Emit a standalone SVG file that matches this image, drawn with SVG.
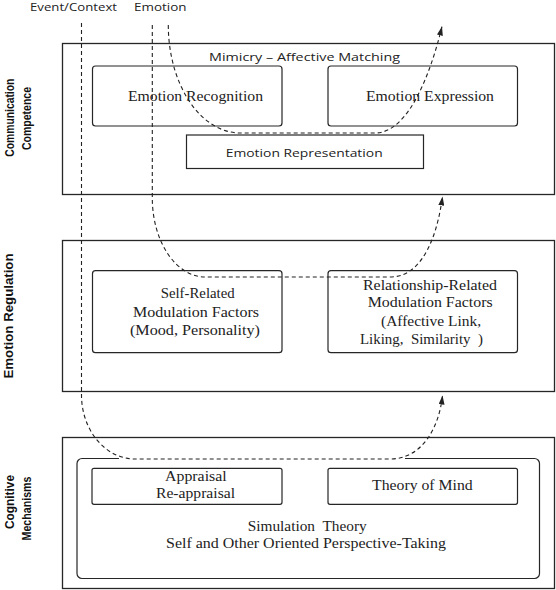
<svg xmlns="http://www.w3.org/2000/svg" width="556" height="590" viewBox="0 0 556 590">
<defs>
<style>
.frame{fill:#fff;stroke:#262626;stroke-width:1.3}
.box{fill:none;stroke:#262626;stroke-width:1.2}
.sans{font-family:"Open Sans","DejaVu Sans",sans-serif;font-size:11.5px;fill:#222}
.serif{font-size:15.5px;fill:#222}
.lab{font-family:"Liberation Sans",Arial,sans-serif;font-size:12px;font-weight:bold;fill:#111;text-anchor:middle}
.dash{fill:none;stroke:#222;stroke-width:1.1;stroke-dasharray:4 3}
</style>
<marker id="ah" markerUnits="userSpaceOnUse" markerWidth="9" markerHeight="6" refX="9" refY="3" orient="auto">
<path d="M0,0 L9,3 L0,6 z" fill="#222" stroke="none"/>
</marker>
</defs>
<rect width="556" height="590" fill="#fff"/>

<g id="top-labels">
<text class="sans" x="30" y="10.7" textLength="87" lengthAdjust="spacingAndGlyphs">Event/Context</text>
<text class="sans" x="134" y="10.7" textLength="52.5" lengthAdjust="spacingAndGlyphs">Emotion</text>
</g>

<g id="communication-competence">
<rect class="frame" x="62.5" y="43.5" width="492" height="151"/>
<text class="lab" transform="translate(14,117.7) rotate(-90)" textLength="78" lengthAdjust="spacingAndGlyphs">Communication</text>
<text class="lab" transform="translate(30.5,118.5) rotate(-90)" textLength="63" lengthAdjust="spacingAndGlyphs">Competence</text>
<text class="sans" x="209" y="61" textLength="191" lengthAdjust="spacingAndGlyphs">Mimicry – Affective Matching</text>
</g>
<g id="emotion-recognition" font-family="'Liberation Serif','DejaVu Serif','Times New Roman',serif">
<rect class="box" x="92.5" y="66" width="189.5" height="60" rx="3"/>
<text class="serif" x="128" y="101" textLength="135" lengthAdjust="spacingAndGlyphs">Emotion Recognition</text>
</g>
<g id="emotion-expression" font-family="'Liberation Serif','DejaVu Serif','Times New Roman',serif">
<rect class="box" x="328" y="66" width="189.5" height="60" rx="3"/>
<text class="serif" x="366" y="101" textLength="128" lengthAdjust="spacingAndGlyphs">Emotion Expression</text>
</g>
<g id="emotion-representation">
<rect class="box" x="186.5" y="135" width="237" height="33.5"/>
<text class="sans" x="225.7" y="157" textLength="157" lengthAdjust="spacingAndGlyphs">Emotion Representation</text>
</g>

<g id="emotion-regulation">
<rect class="frame" x="62.5" y="240.5" width="492" height="151"/>
<text class="lab" transform="translate(13,316) rotate(-90)" textLength="125" lengthAdjust="spacingAndGlyphs">Emotion Regulation</text>
</g>
<g id="self-related" font-family="'Liberation Serif','DejaVu Serif','Times New Roman',serif">
<rect class="box" x="92.5" y="270.7" width="189.5" height="82" rx="3"/>
<text class="serif" x="160.7" y="298" textLength="74" lengthAdjust="spacingAndGlyphs">Self-Related</text>
<text class="serif" x="133" y="316.7" textLength="126" lengthAdjust="spacingAndGlyphs">Modulation Factors</text>
<text class="serif" x="130" y="335" textLength="130" lengthAdjust="spacingAndGlyphs">(Mood, Personality)</text>
</g>
<g id="relationship-related" font-family="'Liberation Serif','DejaVu Serif','Times New Roman',serif">
<rect class="box" x="328" y="270.7" width="189.5" height="82" rx="3"/>
<text class="serif" x="363" y="290" textLength="134" lengthAdjust="spacingAndGlyphs">Relationship-Related</text>
<text class="serif" x="367.7" y="307.3" textLength="125" lengthAdjust="spacingAndGlyphs">Modulation Factors</text>
<text class="serif" x="381" y="326" textLength="100" lengthAdjust="spacingAndGlyphs">(Affective Link,</text>
<text class="serif" x="360" y="344" xml:space="preserve" textLength="123" lengthAdjust="spacingAndGlyphs">Liking,  Similarity  )</text>
</g>

<g id="cognitive-mechanisms">
<rect class="frame" x="62.5" y="437.5" width="492" height="151"/>
<text class="lab" transform="translate(14,502) rotate(-90)" textLength="54" lengthAdjust="spacingAndGlyphs">Cognitive</text>
<text class="lab" transform="translate(30.5,508.5) rotate(-90)" textLength="64" lengthAdjust="spacingAndGlyphs">Mechanisms</text>
</g>
<g id="simulation-theory" font-family="'Liberation Serif','DejaVu Serif','Times New Roman',serif">
<rect class="box" x="77" y="458.5" width="462.5" height="120" rx="5"/>
<text class="serif" x="247.7" y="530.7" xml:space="preserve" textLength="119" lengthAdjust="spacingAndGlyphs">Simulation  Theory</text>
<text class="serif" x="166" y="548.3" textLength="280" lengthAdjust="spacingAndGlyphs">Self and Other Oriented Perspective-Taking</text>
</g>
<g id="appraisal" font-family="'Liberation Serif','DejaVu Serif','Times New Roman',serif">
<rect class="box" x="92" y="468.3" width="190" height="36" rx="2"/>
<text class="serif" x="165" y="480.7" textLength="61.7" lengthAdjust="spacingAndGlyphs">Appraisal</text>
<text class="serif" x="156" y="498" textLength="79" lengthAdjust="spacingAndGlyphs">Re-appraisal</text>
</g>
<g id="theory-of-mind" font-family="'Liberation Serif','DejaVu Serif','Times New Roman',serif">
<rect class="box" x="328" y="468.3" width="189.5" height="36" rx="2"/>
<text class="serif" x="372" y="490" textLength="100.7" lengthAdjust="spacingAndGlyphs">Theory of Mind</text>
</g>

<g id="connectors">
<line x1="119" y1="458.5" x2="405" y2="458.5" stroke="#fff" stroke-width="2.2"/>
<path class="dash" marker-end="url(#ah)" d="M81.5,23 L81.5,395 A53.5,64 0 0 0 135,459 L390,459 C422,459 439,428 442.5,395.5"/>
<path class="dash" marker-end="url(#ah)" d="M152.3,25 L152.3,198 A53,79 0 0 0 205,277 L390,277 C425,277 438,230 442.5,196.5"/>
<path class="dash" marker-end="url(#ah)" d="M168.3,25 A72,108 0 0 0 240,133 L375,133 C410,133 432,68 442,26.5"/>
</g>
</svg>
